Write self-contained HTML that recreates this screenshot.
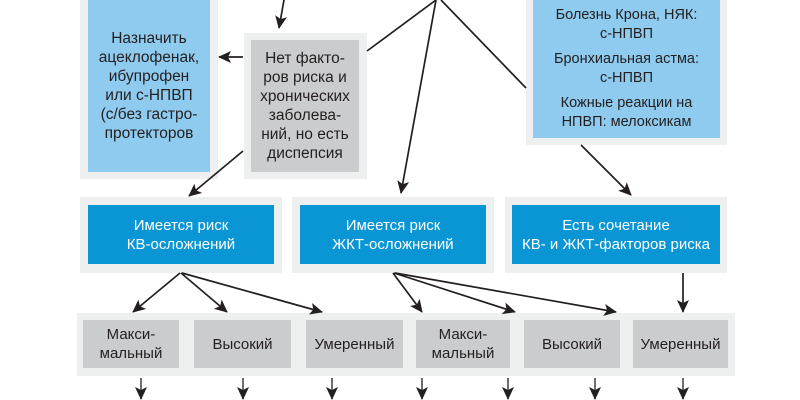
<!DOCTYPE html>
<html><head><meta charset="utf-8"><style>
body{margin:0;width:800px;height:400px;background:#fff;position:relative;overflow:hidden;font-family:"Liberation Sans Narrow","Liberation Sans","DejaVu Sans Condensed",sans-serif;}
.o{position:absolute;background:#eef0f0;}
.i{position:absolute;display:flex;align-items:center;justify-content:center;text-align:center;font-size:15px;line-height:19px;color:#231f20;}
.lb{background:#8ecbee;}
.gr{background:#cbcccd;}
.bl{background:#0a96d4;color:#fff;}
svg{position:absolute;left:0;top:0;}
</style></head><body>
<div class="o" style="left:80px;top:0;width:138px;height:179px"></div>
<div class="i lb" style="left:88px;top:0;width:122px;height:172px;font-size:15.5px">Назначить<br>ацеклофенак,<br>ибупрофен<br>или с-НПВП<br>(с/без гастро-<br>протекторов</div>

<div class="o" style="left:244px;top:33px;width:123px;height:146px"></div>
<div class="i gr" style="left:251px;top:40px;width:108px;height:132px;font-size:15.5px">Нет факто-<br>ров риска и<br>хронических<br>заболева-<br>ний, но есть<br>диспепсия</div>

<div class="o" style="left:526px;top:0;width:201px;height:145px"></div>
<div class="i lb" style="left:533px;top:0;width:187px;height:138px;flex-direction:column;font-size:14.5px"><div>Болезнь Крона, НЯК:<br>с-НПВП</div><div style="margin-top:6px">Бронхиальная астма:<br>с-НПВП</div><div style="margin-top:6px">Кожные реакции на<br>НПВП: мелоксикам</div></div>

<div class="o" style="left:80px;top:197px;width:202px;height:76px"></div>
<div class="i bl" style="left:88px;top:205px;width:186px;height:59px">Имеется риск<br>КВ-осложнений</div>
<div class="o" style="left:292px;top:197px;width:202px;height:76px"></div>
<div class="i bl" style="left:300px;top:205px;width:186px;height:59px">Имеется риск<br>ЖКТ-осложнений</div>
<div class="o" style="left:505px;top:197px;width:222px;height:76px"></div>
<div class="i bl" style="left:512px;top:205px;width:208px;height:59px">Есть сочетание<br>КВ- и ЖКТ-факторов риска</div>

<div class="o" style="left:77px;top:313px;width:658px;height:63px"></div>
<div class="i gr" style="left:83px;top:320px;width:96px;height:48px">Макси-<br>мальный</div>
<div class="i gr" style="left:194px;top:320px;width:97px;height:48px">Высокий</div>
<div class="i gr" style="left:306px;top:320px;width:97px;height:48px">Умеренный</div>
<div class="i gr" style="left:416px;top:320px;width:94px;height:48px">Макси-<br>мальный</div>
<div class="i gr" style="left:524px;top:320px;width:96px;height:48px">Высокий</div>
<div class="i gr" style="left:633px;top:320px;width:95px;height:48px">Умеренный</div>

<svg width="800" height="400">
<defs><marker id="a" markerWidth="13" markerHeight="12" refX="12" refY="6" orient="auto" markerUnits="userSpaceOnUse"><path d="M0,0 L13,6 L0,12 L3,6 z" fill="#231f20"/></marker></defs>
<g stroke="#231f20" stroke-width="1.7" fill="none">
<line x1="284" y1="0" x2="279" y2="28" marker-end="url(#a)"/>
<line x1="243" y1="57" x2="219" y2="57" marker-end="url(#a)"/>
<line x1="243" y1="151" x2="189" y2="196" marker-end="url(#a)"/>
<line x1="436" y1="0" x2="367" y2="51"/>
<line x1="436" y1="0" x2="401" y2="193" marker-end="url(#a)"/>
<line x1="441" y1="0" x2="526" y2="88"/>
<line x1="581" y1="145" x2="631" y2="195" marker-end="url(#a)"/>
<line x1="180" y1="273" x2="133" y2="312" marker-end="url(#a)"/>
<line x1="181" y1="273" x2="227" y2="312" marker-end="url(#a)"/>
<line x1="182" y1="273" x2="322" y2="312" marker-end="url(#a)"/>
<line x1="393" y1="273" x2="422" y2="312" marker-end="url(#a)"/>
<line x1="394" y1="273" x2="515" y2="312" marker-end="url(#a)"/>
<line x1="395" y1="273" x2="616" y2="312" marker-end="url(#a)"/>
<line x1="683" y1="273" x2="683" y2="312" marker-end="url(#a)"/>
</g>
<g stroke="#555" stroke-width="1.7" fill="none">
<line x1="141" y1="378" x2="141" y2="399" marker-end="url(#a)"/>
<line x1="243" y1="378" x2="243" y2="399" marker-end="url(#a)"/>
<line x1="332" y1="378" x2="332" y2="399" marker-end="url(#a)"/>
<line x1="422" y1="378" x2="422" y2="399" marker-end="url(#a)"/>
<line x1="508" y1="378" x2="508" y2="399" marker-end="url(#a)"/>
<line x1="595" y1="378" x2="595" y2="399" marker-end="url(#a)"/>
<line x1="683" y1="378" x2="683" y2="399" marker-end="url(#a)"/>
</g>
</svg>
</body></html>
